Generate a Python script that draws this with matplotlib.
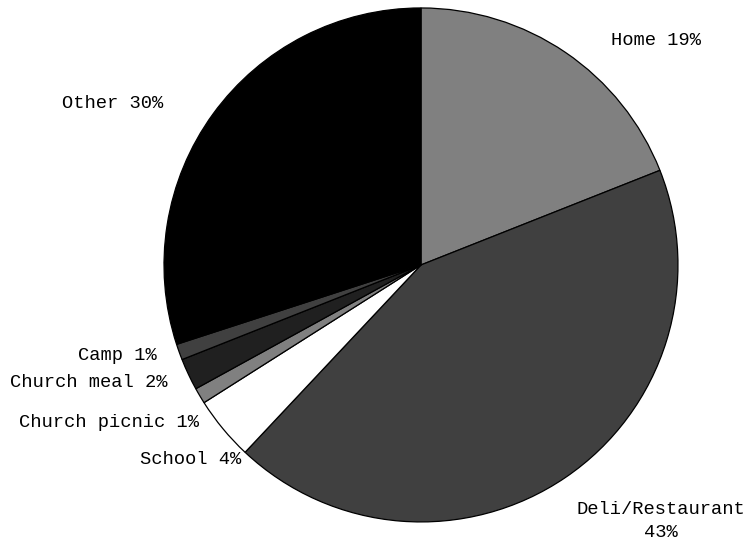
import matplotlib
matplotlib.use("Agg")
import matplotlib.pyplot as plt

# Where the cases ate: share of cases by setting (percent)
categories = ["Home", "Deli/Restaurant", "School", "Church picnic",
              "Church meal", "Camp", "Other"]
shares = [19, 43, 4, 1, 2, 1, 30]
slice_colors = ["#808080", "#404040", "#ffffff", "#808080",
                "#202020", "#404040", "#000000"]

# Label text and anchor placement (data units, pie radius = 1)
label_text = ["Home 19%", "Deli/Restaurant\n43%", "School 4%",
              "Church picnic 1%", "Church meal 2%", "Camp 1%", "Other 30%"]
label_xy = [(0.914, 0.875), (0.935, -0.996), (-0.700, -0.759),
            (-0.864, -0.615), (-0.988, -0.459), (-1.027, -0.354),
            (-1.004, 0.630)]
label_ha = ["center", "center", "right", "right", "right", "right", "right"]

fig = plt.figure(figsize=(7.51, 5.52), dpi=100)
ax = fig.add_axes([0, 0, 1, 1])

ax.pie(shares, colors=slice_colors, startangle=90, counterclock=False,
       radius=1.0, center=(0, 0),
       wedgeprops=dict(edgecolor="black", linewidth=0.9))

for txt, (x, y), ha in zip(label_text, label_xy, label_ha):
    ax.text(x, y, txt, ha=ha, va="center", fontsize=13.5,
            family="Liberation Mono", color="black", linespacing=1.5,
            multialignment="center")

ax.set_xlim(-1.638, 1.284)
ax.set_ylim(-1.117, 1.031)
ax.set_aspect("equal")
ax.axis("off")

fig.savefig("out.png", dpi=100, facecolor="white")
